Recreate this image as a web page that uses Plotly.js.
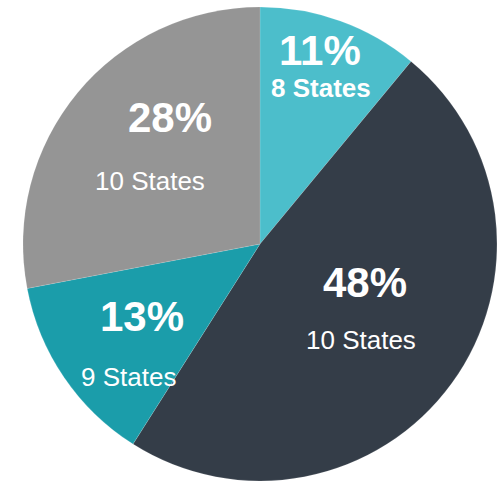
<!DOCTYPE html>
<html>
<head>
<meta charset="utf-8">
<script src="https://cdn.plot.ly/plotly-3.0.1.min.js"></script>
<style>html,body{margin:0;padding:0;background:#fff;}#chart{width:504px;height:482px;}</style>
</head>
<body>
<div id="chart"></div>
<script>
const categories = ["Group A", "Group B", "Group C", "Group D"];
const shares = [11, 48, 13, 28];
const stateCounts = [8, 10, 9, 10];
const colors = ["#4CBECB", "#343D48", "#1B9DAA", "#959595"];

// label placement (pixels in a 504x482 frame): [pctX, pctY, statesX, statesY]
const labelPos = [
  [320, 51, 321, 88],
  [365, 282, 361, 340],
  [142, 316, 128, 377],
  [170, 117, 150, 181]
];
const statesBold = [true, false, false, false];

const W = 504, H = 482;
const FONT = "'Liberation Sans', Arial, sans-serif";
const annotations = [];
shares.forEach((v, i) => {
  const p = labelPos[i];
  annotations.push({
    xref: 'paper', yref: 'paper', x: p[0] / W, y: 1 - p[1] / H,
    xanchor: 'center', yanchor: 'middle', showarrow: false,
    text: '<b>' + v + '%</b>',
    font: {family: FONT, size: 42, color: '#ffffff'}
  });
  const st = stateCounts[i] + ' States';
  annotations.push({
    xref: 'paper', yref: 'paper', x: p[2] / W, y: 1 - p[3] / H,
    xanchor: 'center', yanchor: 'middle', showarrow: false,
    text: statesBold[i] ? '<b>' + st + '</b>' : st,
    font: {family: FONT, size: 26, color: '#ffffff'}
  });
});

const data = [{
  type: 'pie',
  labels: categories,
  values: shares,
  sort: false,
  direction: 'clockwise',
  rotation: 0,
  textinfo: 'none',
  hoverinfo: 'none',
  marker: {colors: colors, line: {color: 'rgba(255,255,255,0.25)', width: 0.5}},
  domain: {x: [23 / W, 497 / W], y: [1 / H, 475 / H]}
}];

const layout = {
  width: W, height: H,
  margin: {l: 0, r: 0, t: 0, b: 0},
  showlegend: false,
  paper_bgcolor: '#ffffff',
  annotations: annotations
};

Plotly.newPlot('chart', data, layout, {displayModeBar: false, staticPlot: true});
</script>
</body>
</html>
